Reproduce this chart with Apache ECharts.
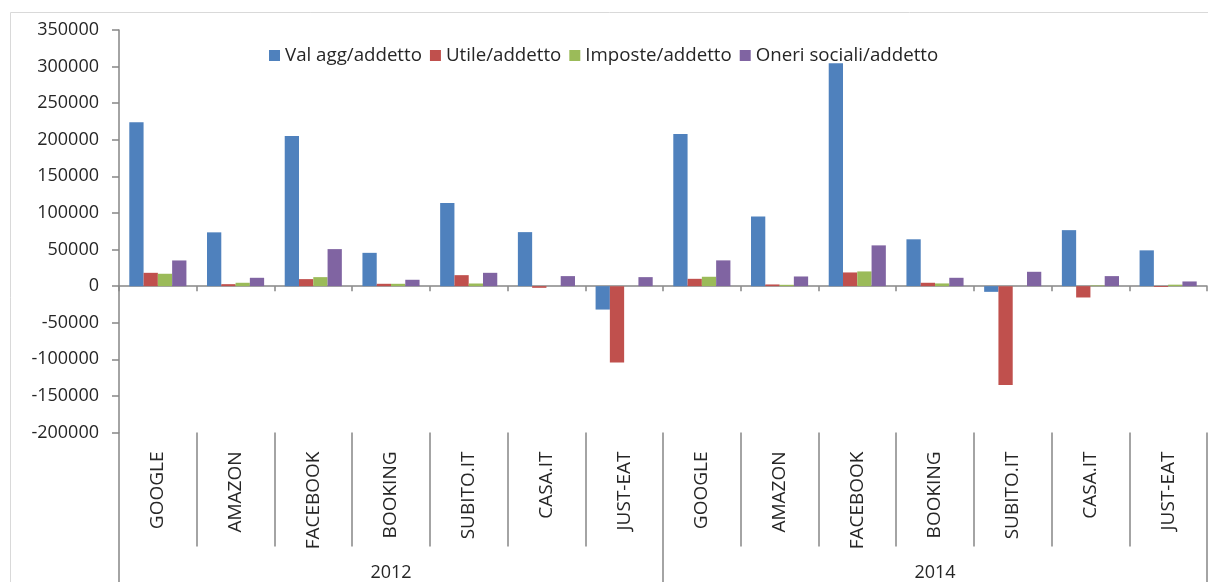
<!DOCTYPE html>
<html>
<head>
<meta charset="utf-8">
<script src="https://cdn.jsdelivr.net/npm/echarts@6/dist/echarts.min.js"></script>
<style>html,body{margin:0;padding:0;background:#fff;}#c{width:1208px;height:582px;}</style>
</head>
<body>
<div id="c"></div>
<script>
const companies = ['GOOGLE','AMAZON','FACEBOOK','BOOKING','SUBITO.IT','CASA.IT','JUST-EAT'];
const years = ['2012','2014'];
const seriesNames = ['Val agg/addetto','Utile/addetto','Imposte/addetto','Oneri sociali/addetto'];
const valAgg  = [224000, 73500, 205000, 45500, 113700, 73800, -32000, 208000, 95000, 304600, 64000, -7800, 76500, 48900];
const utile   = [18200, 2700, 9600, 3200, 15000, -2300, -104500, 10000, 2300, 18700, 4600, -135200, -15500, -1200];
const imposte = [16900, 4600, 12300, 3200, 3600, 0, 0, 12800, 1800, 20100, 3700, 0, 900, 2000];
const oneri   = [35100, 11400, 50600, 8700, 18200, 13700, 12300, 35200, 13200, 55700, 11400, 19600, 13700, 6400];
const yTicks = {min: -200000, max: 350000, step: 50000};

const categories = [];
years.forEach(function(){ companies.forEach(function(c){ categories.push(c); }); });
const colors = ['#4F81BD','#C0504D','#9BBB59','#8064A2'];
const font = 'Open Sans';
const txt = '#262626';
const axisCol = '#868686';

const chart = echarts.init(document.getElementById('c'));
chart.setOption({
  animation: false,
  textStyle: {fontFamily: font},
  graphic: [{
    type: 'rect', z: -10, silent: true,
    shape: {x: 10.5, y: 12.5, width: 1400, height: 800},
    style: {fill: 'none', stroke: '#d9d9d9', lineWidth: 1}
  }],
  legend: {
    left: 269, top: 46, padding: 0,
    itemWidth: 11, itemHeight: 11, itemGap: 8,
    icon: 'rect',
    textStyle: {fontFamily: font, fontSize: 18.7, color: txt},
    data: seriesNames
  },
  grid: {left: 119, right: 1, top: 30, bottom: 149.5, containLabel: false},
  xAxis: [{
    type: 'category', data: categories, gridIndex: 0, position: 'bottom',
    axisLine: {onZero: true, lineStyle: {color: axisCol, width: 1.5}},
    axisTick: {show: true, length: 5, interval: 0, lineStyle: {color: axisCol, width: 1.5}},
    axisLabel: {show: false}, splitLine: {show: false}
  }, {
    type: 'category', data: categories, gridIndex: 0, position: 'bottom',
    axisLine: {show: false, onZero: false},
    axisTick: {show: true, length: 114, interval: 0, lineStyle: {color: axisCol, width: 1.5}},
    axisLabel: {show: true, interval: 0, rotate: 90, margin: 19, fontFamily: font, fontSize: 19, color: txt},
    splitLine: {show: false}
  }, {
    type: 'category', data: years, gridIndex: 0, position: 'bottom',
    axisLine: {show: false, onZero: false},
    axisTick: {show: true, length: 152, interval: 0, lineStyle: {color: axisCol, width: 1.5}},
    axisLabel: {show: true, interval: 0, margin: 131, fontFamily: font, fontSize: 18, color: txt},
    splitLine: {show: false}
  }],
  yAxis: {
    type: 'value', min: yTicks.min, max: yTicks.max, interval: yTicks.step,
    axisLine: {show: true, lineStyle: {color: axisCol, width: 1.5}},
    axisTick: {show: true, length: 7, lineStyle: {color: axisCol, width: 1.5}},
    axisLabel: {margin: 20, fontFamily: font, fontSize: 18, color: txt, formatter: function(v){ return String(v); }},
    splitLine: {show: false}
  },
  series: [valAgg, utile, imposte, oneri].map(function(d, i){
    return {
      name: seriesNames[i], type: 'bar', xAxisIndex: 0, data: d,
      barGap: '0%', barCategoryGap: '26.5%',
      itemStyle: {color: colors[i]}
    };
  })
});
</script>
</body>
</html>
